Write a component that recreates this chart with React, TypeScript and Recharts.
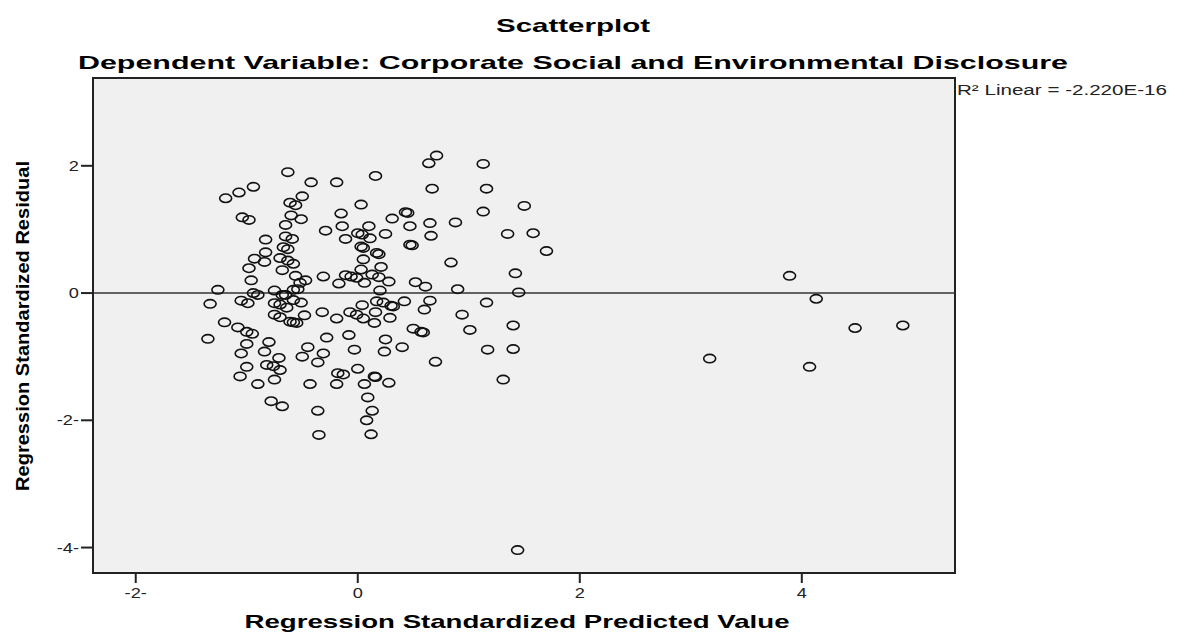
import { CartesianGrid, ReferenceArea, ReferenceLine, Scatter, ScatterChart, XAxis, YAxis } from 'recharts';

// regression standardized predicted value (x) and residual (y)
const predictedValues = [
  -0.63, -0.42, -0.19, -0.94, -1.07, -1.19, -0.5, -0.61, -0.56, -1.04, -0.98, -0.6, -0.51, -0.15, -0.65, -0.29,
  -0.14, -0.83, -0.65, -0.59, -0.11, -0.67, -0.63, -0.83, -0.93, -0.84, -0.7, -0.63, -0.58, -0.98, -0.68, -0.96,
  -0.56, -0.47, -0.52, -0.31, -0.17, -0.11, -0.06, -0.01,
  -1.26, -0.94, -0.9, -1.05, -0.99, -0.75, -0.68, -0.65, -0.58, -0.54, -0.75, -0.7, -0.64, -0.58, -0.51, -1.33,
  -0.75, -0.7, -0.61, -0.58, -0.55, -0.48, -0.32, -0.19, -0.07, -1.2, -1.08, -1.0, -0.95, -1.35, -1.0, -0.8,
  -0.28, -0.08, -1.05, -0.84, -0.45, -0.5, -0.31, -0.03, -1.0, -1.06, -0.82, -0.76, -0.71, -0.7, -0.75, -0.36,
  -0.9, -0.43, -0.18, -0.13, -0.19, -0.78, -0.68, -0.36, -0.35,
  0.71, 0.64, 1.13, 0.16, 0.67, 1.16, 0.03, 1.5, 1.13, 0.43, 0.45, 0.31, 0.65, 0.88, 0.47, 0.1, 0.0, 0.04, 0.11,
  0.25, 0.66, 1.35, 1.58, 0.03, 0.05, 0.47, 0.49, 0.17, 0.19, 1.7, 0.05, 0.21, 0.84, 0.03, 0.13, 0.19, 0.28, 0.06,
  0.52, 0.61, 0.9, 1.42, 1.45, 0.2,
  0.04, 0.17, 0.23, 0.3, 0.32, 0.42, 0.65, 1.16, 0.6, 0.94, 0.16, 0.29, 0.15, 0.05, -0.01, 1.4, 0.5, 0.57, 0.59,
  1.01, 0.25, 0.4, 0.24, 1.17, 1.4, 0.7, 0.0, 0.15, 0.16, 0.28, 0.06, 1.31, 0.09, 0.13, 0.08, 0.12,
  3.17, 3.89, 4.07, 4.13, 4.48, 4.91, 1.44
];

const standardizedResiduals = [
  1.9, 1.74, 1.74, 1.67, 1.58, 1.49, 1.52, 1.42, 1.38, 1.19, 1.15, 1.22, 1.16, 1.25, 1.07, 0.98,
  1.05, 0.84, 0.89, 0.85, 0.85, 0.72, 0.69, 0.64, 0.54, 0.49, 0.55, 0.51, 0.46, 0.39, 0.36, 0.2,
  0.27, 0.2, 0.16, 0.26, 0.15, 0.28, 0.26, 0.24,
  0.05, 0.0, -0.03, -0.12, -0.16, 0.04, -0.03, -0.03, 0.05, 0.06, -0.16, -0.18, -0.23, -0.11, -0.15, -0.17,
  -0.34, -0.38, -0.45, -0.46, -0.47, -0.35, -0.3, -0.4, -0.3, -0.46, -0.54, -0.61, -0.64, -0.72, -0.8, -0.77,
  -0.7, -0.66, -0.95, -0.92, -0.85, -1.0, -0.95, -0.89, -1.16, -1.31, -1.13, -1.15, -1.02, -1.21, -1.36, -1.09,
  -1.43, -1.43, -1.26, -1.28, -1.43, -1.7, -1.78, -1.85, -2.23,
  2.16, 2.04, 2.03, 1.84, 1.64, 1.64, 1.39, 1.37, 1.28, 1.27, 1.26, 1.17, 1.1, 1.11, 1.05, 1.05, 0.94, 0.92, 0.86,
  0.93, 0.9, 0.93, 0.94, 0.73, 0.71, 0.76, 0.75, 0.63, 0.61, 0.66, 0.53, 0.41, 0.48, 0.37, 0.29, 0.25, 0.18, 0.16,
  0.17, 0.1, 0.06, 0.31, 0.01, 0.04,
  -0.19, -0.13, -0.15, -0.2, -0.21, -0.13, -0.12, -0.15, -0.26, -0.34, -0.3, -0.39, -0.47, -0.4, -0.34, -0.51, -0.56, -0.61, -0.62,
  -0.58, -0.73, -0.85, -0.92, -0.89, -0.88, -1.08, -1.19, -1.31, -1.32, -1.41, -1.43, -1.36, -1.64, -1.85, -2.0, -2.22,
  -1.03, 0.27, -1.16, -0.09, -0.55, -0.51, -4.04
];

const xTicks = [-2, 0, 2, 4];
const yTicks = [-4, -2, 0, 2];
const xDomain: [number, number] = [-2.385, 5.38];
const yDomain: [number, number] = [-4.4, 3.38];

const FONT = 'Arial, "Liberation Sans", sans-serif';

const points = predictedValues.map((x, i) => ({ x, y: standardizedResiduals[i] }));

function formatTick(v: number) {
  return v < 0 ? `${v}-` : `${v}`;
}

const Ring = (props: any) => {
  const { cx, cy } = props;
  if (cx == null || cy == null) return null;
  return <ellipse cx={cx} cy={cy} rx={6} ry={4.2} fill="none" stroke="#111" strokeWidth={1.6} />;
};

const XTick = ({ x, y, payload }: any) => (
  <text
    x={x}
    y={y + 13}
    textAnchor="middle"
    fontSize={14}
    fontFamily={FONT}
    fill="#222"
    transform={`translate(${x},0) scale(1.3,1) translate(${-x},0)`}
  >
    {formatTick(payload.value)}
  </text>
);

const YTick = ({ x, y, payload }: any) => (
  <text
    x={x}
    y={y + 5}
    textAnchor="end"
    fontSize={14}
    fontFamily={FONT}
    fill="#222"
    transform={`translate(${x},0) scale(1.3,1) translate(${-x},0)`}
  >
    {formatTick(payload.value)}
  </text>
);

export default function App() {
  return (
    <div style={{ position: 'relative', width: 1184, height: 632, background: '#fff' }}>
      <style>{'body{margin:0}'}</style>
      <ScatterChart width={1184} height={632} margin={{ top: 78, right: 229, bottom: 0, left: 0 }}>
        <CartesianGrid fill="#f0f0f0" horizontal={false} vertical={false} />
        <XAxis
          type="number"
          dataKey="x"
          domain={xDomain}
          ticks={xTicks}
          allowDataOverflow
          height={59}
          tickSize={10}
          tick={<XTick />}
          axisLine={{ stroke: '#222', strokeWidth: 2 }}
          tickLine={{ stroke: '#222', strokeWidth: 2 }}
        />
        <YAxis
          type="number"
          dataKey="y"
          domain={yDomain}
          ticks={yTicks}
          allowDataOverflow
          width={93}
          tickSize={12}
          tick={<YTick />}
          axisLine={{ stroke: '#222', strokeWidth: 2 }}
          tickLine={{ stroke: '#222', strokeWidth: 2 }}
        />
        <ReferenceLine y={0} stroke="#333" strokeWidth={1.5} />
        <Scatter data={points} shape={<Ring />} isAnimationActive={false} />
        <ReferenceArea
          x1={xDomain[0]}
          x2={xDomain[1]}
          y1={yDomain[0]}
          y2={yDomain[1]}
          fill="none"
          stroke="#222"
          strokeWidth={2}
        />
      </ScatterChart>
      <svg
        width={1184}
        height={632}
        style={{ position: 'absolute', left: 0, top: 0, pointerEvents: 'none' }}
        fontFamily={FONT}
      >
        <text x={573} y={32} textAnchor="middle" fontSize={19} fontWeight="bold" textLength={154} lengthAdjust="spacingAndGlyphs">
          Scatterplot
        </text>
        <text x={573} y={69} textAnchor="middle" fontSize={19} fontWeight="bold" textLength={990} lengthAdjust="spacingAndGlyphs">
          Dependent Variable: Corporate Social and Environmental Disclosure
        </text>
        <text x={957} y={95} fontSize={14} fill="#222" textLength={210} lengthAdjust="spacingAndGlyphs">
          R² Linear = -2.220E-16
        </text>
        <text x={517} y={628} textAnchor="middle" fontSize={19} fontWeight="bold" textLength={545} lengthAdjust="spacingAndGlyphs">
          Regression Standardized Predicted Value
        </text>
        <text
          x={0}
          y={0}
          transform="translate(29,326) rotate(-90)"
          textAnchor="middle"
          fontSize={19}
          fontWeight="bold"
          textLength={330}
          lengthAdjust="spacingAndGlyphs"
        >
          Regression Standardized Residual
        </text>
      </svg>
    </div>
  );
}
